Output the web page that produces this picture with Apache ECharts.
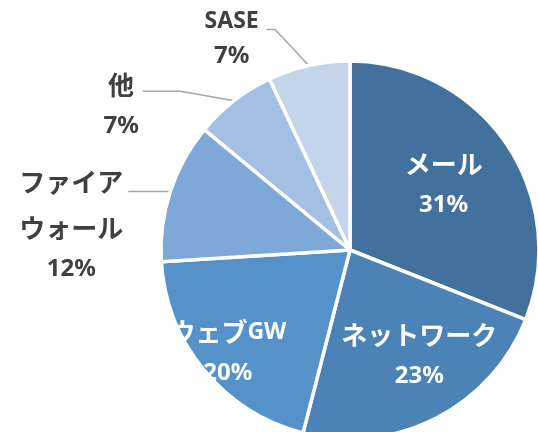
<!DOCTYPE html>
<html>
<head>
<meta charset="utf-8">
<title>pie</title>
<script src="https://cdn.jsdelivr.net/npm/echarts@6/dist/echarts.min.js"></script>
<style>
html, body { margin: 0; padding: 0; background: #fff; }
#chart { width: 538px; height: 432px; }
</style>
</head>
<body>
<div id="chart"></div>
<script>
const categories = ['メール', 'ネットワーク', 'ウェブGW', 'ファイアウォール', '他', 'SASE'];
const shares = [31, 23, 20, 12, 7, 7];

const sliceColors = ['#41719c', '#4b83b7', '#5592ca', '#7ea8d8', '#a3bfe3', '#c4d4eb'];
// inside labels are nudged off the default mid-radius spot
const insideNudge = [[13, -13], [25, 16], [-47, 38], null, null, null];
// outside labels: radial length, horizontal length, gap to text, top padding, min turn angle
const outsideLine = [null, null, null, [0, 42, 5, 63, 90], [12, 84, 4, 24, 170], [37, 34, 8, 21, 133]];

function labelText(p) {
    let name = p.name;
    if (name.length > 6) {
        name = name.slice(0, 4) + '\n' + name.slice(4);
    }
    const lines = name.split('\n').map(line =>
        line.replace(/[A-Za-z]+|[^A-Za-z]+/g, run =>
            /[A-Za-z]/.test(run) ? `{en|${run}}` : `{jp|${run}}`));
    return lines.join('\n') + `\n{val|${p.value}%}`;
}

const data = categories.map((name, i) => {
    const item = { name, value: shares[i], itemStyle: { color: sliceColors[i] } };
    const line = outsideLine[i];
    if (line) {
        item.label = {
            position: 'outside',
            color: '#404040',
            distanceToLabelLine: line[2],
            padding: [line[3], 0, 0, 0],
        };
        item.labelLine = { show: true, length: line[0], length2: line[1], minTurnAngle: line[4] };
    } else {
        item.label = { position: 'inside', color: '#fff' };
        item.labelLine = { show: false };
    }
    return item;
});

const chart = echarts.init(document.getElementById('chart'));
chart.setOption({
    animation: false,
    series: [
        {
            type: 'pie',
            center: [350, 250],
            radius: 189,
            startAngle: 90,
            clockwise: true,
            avoidLabelOverlap: false,
            itemStyle: { borderColor: '#fff', borderWidth: 3.5 },
            label: {
                show: true,
                rotate: 0,
                formatter: labelText,
                rich: {
                    jp: {
                        fontFamily: 'Noto Sans CJK JP',
                        fontSize: 26,
                        fontWeight: 'bold',
                        lineHeight: 46,
                        align: 'center',
                    },
                    en: {
                        fontFamily: 'Noto Sans',
                        fontSize: 23,
                        fontWeight: 'bold',
                        lineHeight: 32,
                        align: 'center',
                    },
                    val: {
                        fontFamily: 'Noto Sans',
                        fontSize: 24,
                        fontWeight: 'bold',
                        lineHeight: 36,
                        align: 'center',
                    },
                },
            },
            labelLine: { lineStyle: { color: '#a6a6a6', width: 1.5 } },
            labelLayout: p => {
                const n = insideNudge[p.dataIndex];
                return n ? { dx: n[0], dy: n[1] } : {};
            },
            emphasis: { disabled: true },
            data,
        },
    ],
});
</script>
</body>
</html>
